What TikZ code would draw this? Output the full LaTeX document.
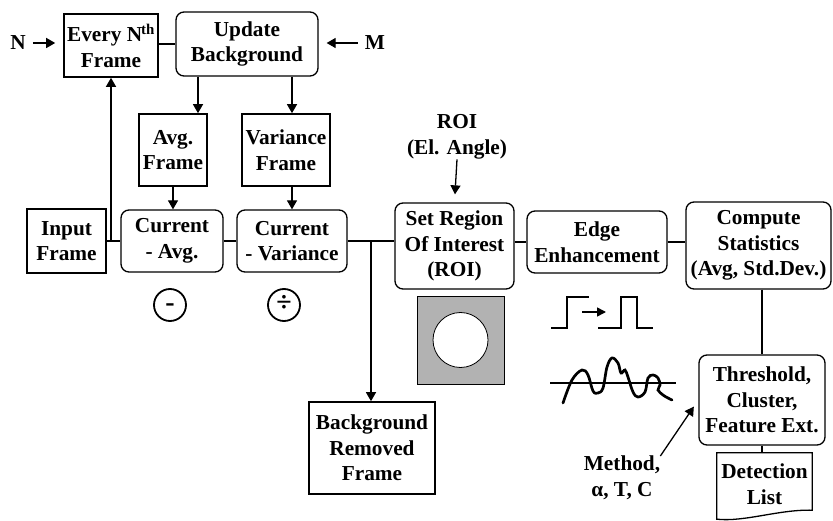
\documentclass[tikz,border=0pt]{standalone}
\usepackage{fontspec}
\setmainfont{Liberation Serif}
\usetikzlibrary{calc,arrows.meta}
\newcommand{\lbl}{\fontsize{21.3}{25.5}\selectfont\bfseries}

\begin{document}
\begin{tikzpicture}[x=1pt,y=-1pt,
    every node/.style={font=\lbl, align=center, inner sep=0pt},
    sqbox/.style 2 args={draw, line width=1.6pt, minimum width=#1, minimum height=#2},
    rbox/.style 2 args={draw, line width=1.3pt, rounded corners=8pt, minimum width=#1, minimum height=#2},
    opbox/.style={circle, draw, line width=1.8pt, minimum size=32pt, text height=14pt, text depth=0pt,
        font=\fontsize{28}{28}\selectfont\bfseries},
    wire/.style={line width=1.3pt},
    feed/.style={wire, -{Triangle[length=9pt,width=10pt]}},
    sig/.style={line width=2.7pt}]
    \useasboundingbox (0,0) rectangle (833,521);

    % top row
    \node (nlbl) at (18,43) {N};
    \node[sqbox={94}{63}] (every) at (111,45.5) {Every N\textsuperscript{\kern-1pt th}\\Frame};
    \node[rbox={142}{64}] (update) at (247,44) {Update\\Background};
    \node (mlbl) at (375,43) {M};
    \node[sqbox={68}{72}] (avgf) at (173,150) {Avg.\\Frame};
    \node[sqbox={88}{72}] (varf) at (286,150) {Variance\\Frame};

    % main row
    \node[sqbox={79}{64}] (input) at (66.5,241) {Input\\Frame};
    \node[rbox={102}{62}] (curavg) at (172,241) {Current\\- Avg.};
    \node[rbox={110}{62}] (curvar) at (292,241) {Current\\- Variance};
    \node (roilbl) at (457,137) {ROI\\(El. Angle)};
    \node[rbox={119}{86}] (roi) at (454.5,246) {Set Region\\Of Interest\\(ROI)};
    \node[rbox={140}{62}] (edge) at (597,242) {Edge\\Enhancement};
    \node[rbox={145}{87}] (stats) at (758.5,245.5) {Compute\\Statistics\\(Avg, Std.Dev.)};
    \node[opbox] (minus) at (170,305) {-};
    \node[opbox] (divide) at (284,305) {÷};

    % lower row
    \node[sqbox={126}{92}] (bgrem) at (372,448) {Background\\Removed\\Frame};
    \node[rbox={126}{90}] (thresh) at (762,400) {Threshold,\\Cluster,\\Feature Ext.};
    \node (meth) at (622,478) {Method,\\α, T, C};
    \node[minimum width=95, minimum height=62] (dlist) at (764.5,484) {Detection\\List};
    \draw[line width=1.3pt] (dlist.north west) -- (dlist.north east) -- ($(dlist.south east)+(0,-5)$)
        .. controls ($(dlist.south)+(15,-6)$) and ($(dlist.south)+(-20,7)$) .. ($(dlist.south west)+(0,4)$) -- cycle;

    \coordinate (ua) at ([xshift=-49pt]update.south);
    \coordinate (ub) at ([xshift=45pt]update.south);
    \coordinate (tap) at ($(curvar.east)!0.5!(curvar.east -| roi.west)$);

    % connectors
    \draw[feed, shorten <=7pt, shorten >=8pt] (nlbl.east) -- (nlbl.east -| every.west);
    \draw[feed, shorten <=7pt, shorten >=8pt] (mlbl.west) -- (mlbl.west -| update.east);
    \draw[wire] (every.east |- update.west) -- (update.west);
    \draw[feed] (ua) -- (ua |- avgf.north);
    \draw[feed] (ub) -- (ub |- varf.north);
    \draw[feed] (avgf.south) -- (avgf.south |- curavg.north);
    \draw[feed] (curvar.north |- varf.south) -- (curvar.north);
    \draw[wire] (input) -- (curavg);
    \draw[wire] (curavg) -- (curvar);
    \draw[wire] (curvar.east) -- (curvar.east -| roi.west);
    \draw[feed] (every.south |- input.east) -- (every.south);
    \draw[feed] (tap) -- (tap |- bgrem.north);
    \draw[feed, shorten >=8pt] (roilbl.south) -- (roi.north);
    \draw[wire] (roi.east |- edge.west) -- (edge.west);
    \draw[wire] (edge.east) -- (edge.east -| stats.west);
    \draw[wire] (thresh.north |- stats.south) -- (thresh.north);
    \draw[wire] (thresh.south) -- (thresh.south |- dlist.north);
    \draw[feed, shorten >=8pt] (meth.north east) -- (thresh.west);

    % ROI mask
    \draw[fill=black!30, line width=0.8pt] (417,296) rectangle (504,384);
    \draw[fill=white, line width=0.8pt] (460.5,340) circle[radius=27.5pt];

    % edge step and pulse
    \draw[sig] (551,328) -- (567,328) -- (567,297) -- (589,297);
    \draw[sig] (598,328) -- (621,328) -- (621,297) -- (637,297) -- (637,328) -- (653,328);
    \draw[line width=1.6pt, -{Triangle[length=9pt,width=9pt]}] (582,312) -- (606,312);

    % thresholded signal
    \draw[sig] (550,383) -- (676,383);
    \draw[sig, line cap=round] plot[smooth, tension=0.6] coordinates {(563,403) (572,380) (582,370) (588,375)
        (593,391) (598,393) (603,388) (607,367) (612,358) (618,363) (621,373) (625,370) (628,377)
        (633,392) (638,397) (645,392) (648,378) (653,375) (658,378) (660,385) (658,390)
        (663,395) (668,398) (672,400)};
\end{tikzpicture}
\end{document}
